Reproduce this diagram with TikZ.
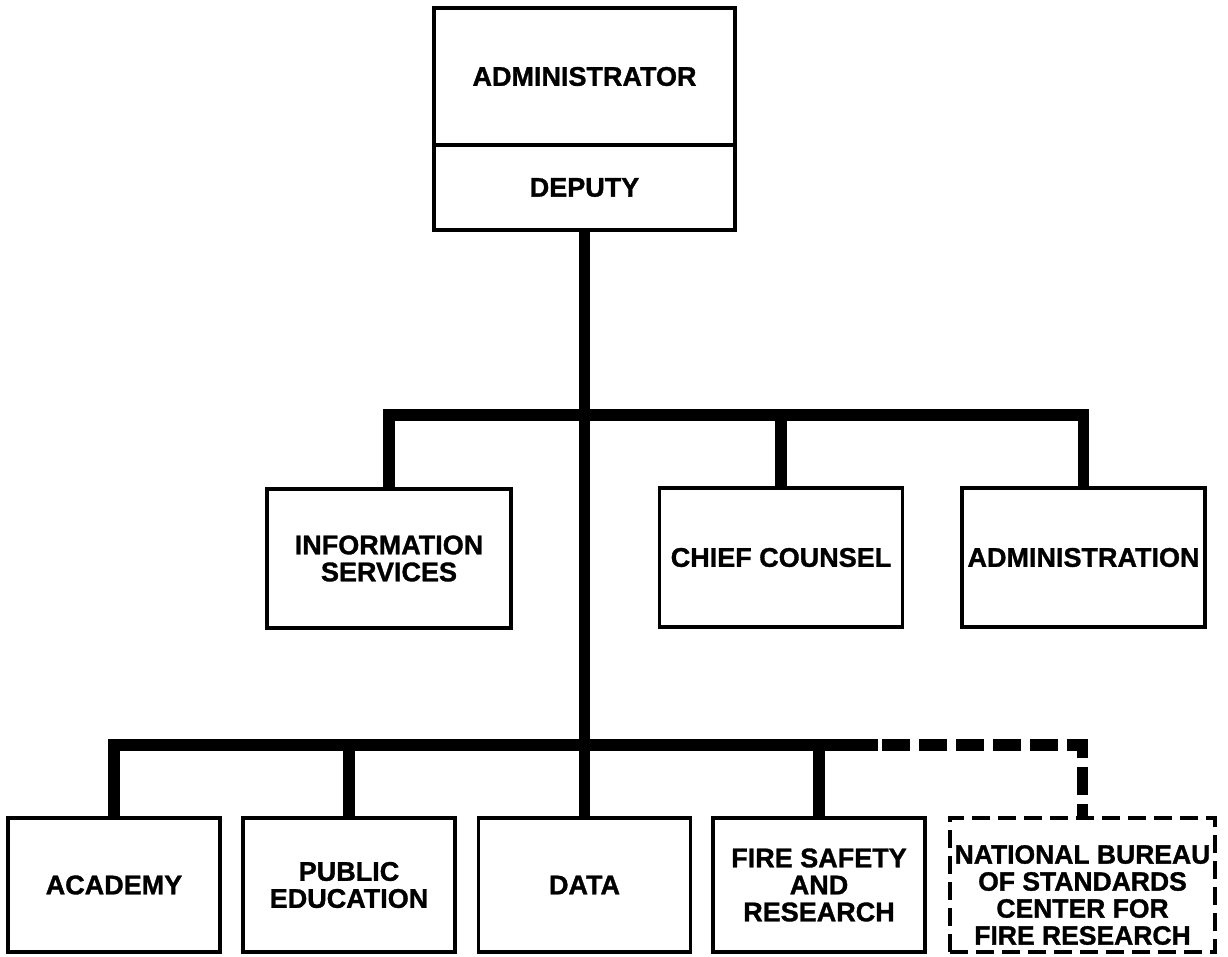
\documentclass[tikz,border=0pt]{standalone}
\usepackage{fontspec}
\setmainfont{Liberation Sans}[BoldFeatures={FakeBold=1.2}]
\begin{document}
\begin{tikzpicture}[x=1pt,y=-1pt,
  box/.style={draw, line width=3.5pt, rectangle, inner sep=0pt, align=center,
    font=\bfseries\fontsize{27}{27}\selectfont},
  mbox/.style={box, minimum width=243pt, minimum height=139pt},
  bbox/.style={box, minimum width=212pt, minimum height=134pt},
  txt/.style={inner sep=0pt, align=center, font=\bfseries\fontsize{26.5}{27}\selectfont},
  bar/.style={line width=11.5pt, line join=miter, line cap=butt},
  dbar/.style={bar, dash pattern=on 28pt off 9pt}
]
\useasboundingbox (0,0) rectangle (1228,957);
% top
\node[box, minimum width=301pt, minimum height=137pt] (admin) at (584.5,76.5) {ADMINISTRATOR};
\node[box, minimum width=301pt, minimum height=85pt] (deputy) at (584.5,187.5) {DEPUTY};
% middle row
\node[mbox, minimum width=244pt] (info) at (389,558.5) {INFORMATION\\SERVICES};
\node[mbox] (chief) at (781,557.5) {CHIEF COUNSEL};
\node[mbox] (admn) at (1083.5,557.5) {ADMINISTRATION};
% bottom row
\node[bbox] (acad) at (114,885) {ACADEMY};
\node[bbox] (pubed) at (349,885) {PUBLIC\\EDUCATION};
\node[bbox] (data) at (584.5,885) {DATA};
\node[bbox] (fire) at (819,885) {FIRE SAFETY\\AND\\RESEARCH};
\node[box, dash pattern=on 18pt off 8pt, minimum width=265pt, minimum height=134pt] (nbs) at (1082.5,885) {};
\node[txt] (nbstext) at (1082.5,895) {NATIONAL BUREAU\\OF STANDARDS\\CENTER FOR\\FIRE RESEARCH};
% coordinates
\coordinate (midbar) at (584.5,415);
\coordinate (botbar) at (584.5,745);
\coordinate (solidend) at (878,745);
\coordinate (dashstart) at (882,745);
% trunk
\draw[bar] (deputy.south) -- (data.north);
% middle bar
\draw[bar] (info.north) -- (info.north |- midbar) -- (admn.north |- midbar) -- (admn.north);
\draw[bar] (chief.north |- midbar) -- (chief.north);
% bottom bar
\draw[bar] (acad.north) -- (acad.north |- botbar) -- (solidend);
\draw[bar] (pubed.north |- botbar) -- (pubed.north);
\draw[bar] (fire.north |- botbar) -- (fire.north);
\draw[dbar] (dashstart) -- (nbs.north |- botbar) -- (nbs.north);
\end{tikzpicture}
\end{document}
